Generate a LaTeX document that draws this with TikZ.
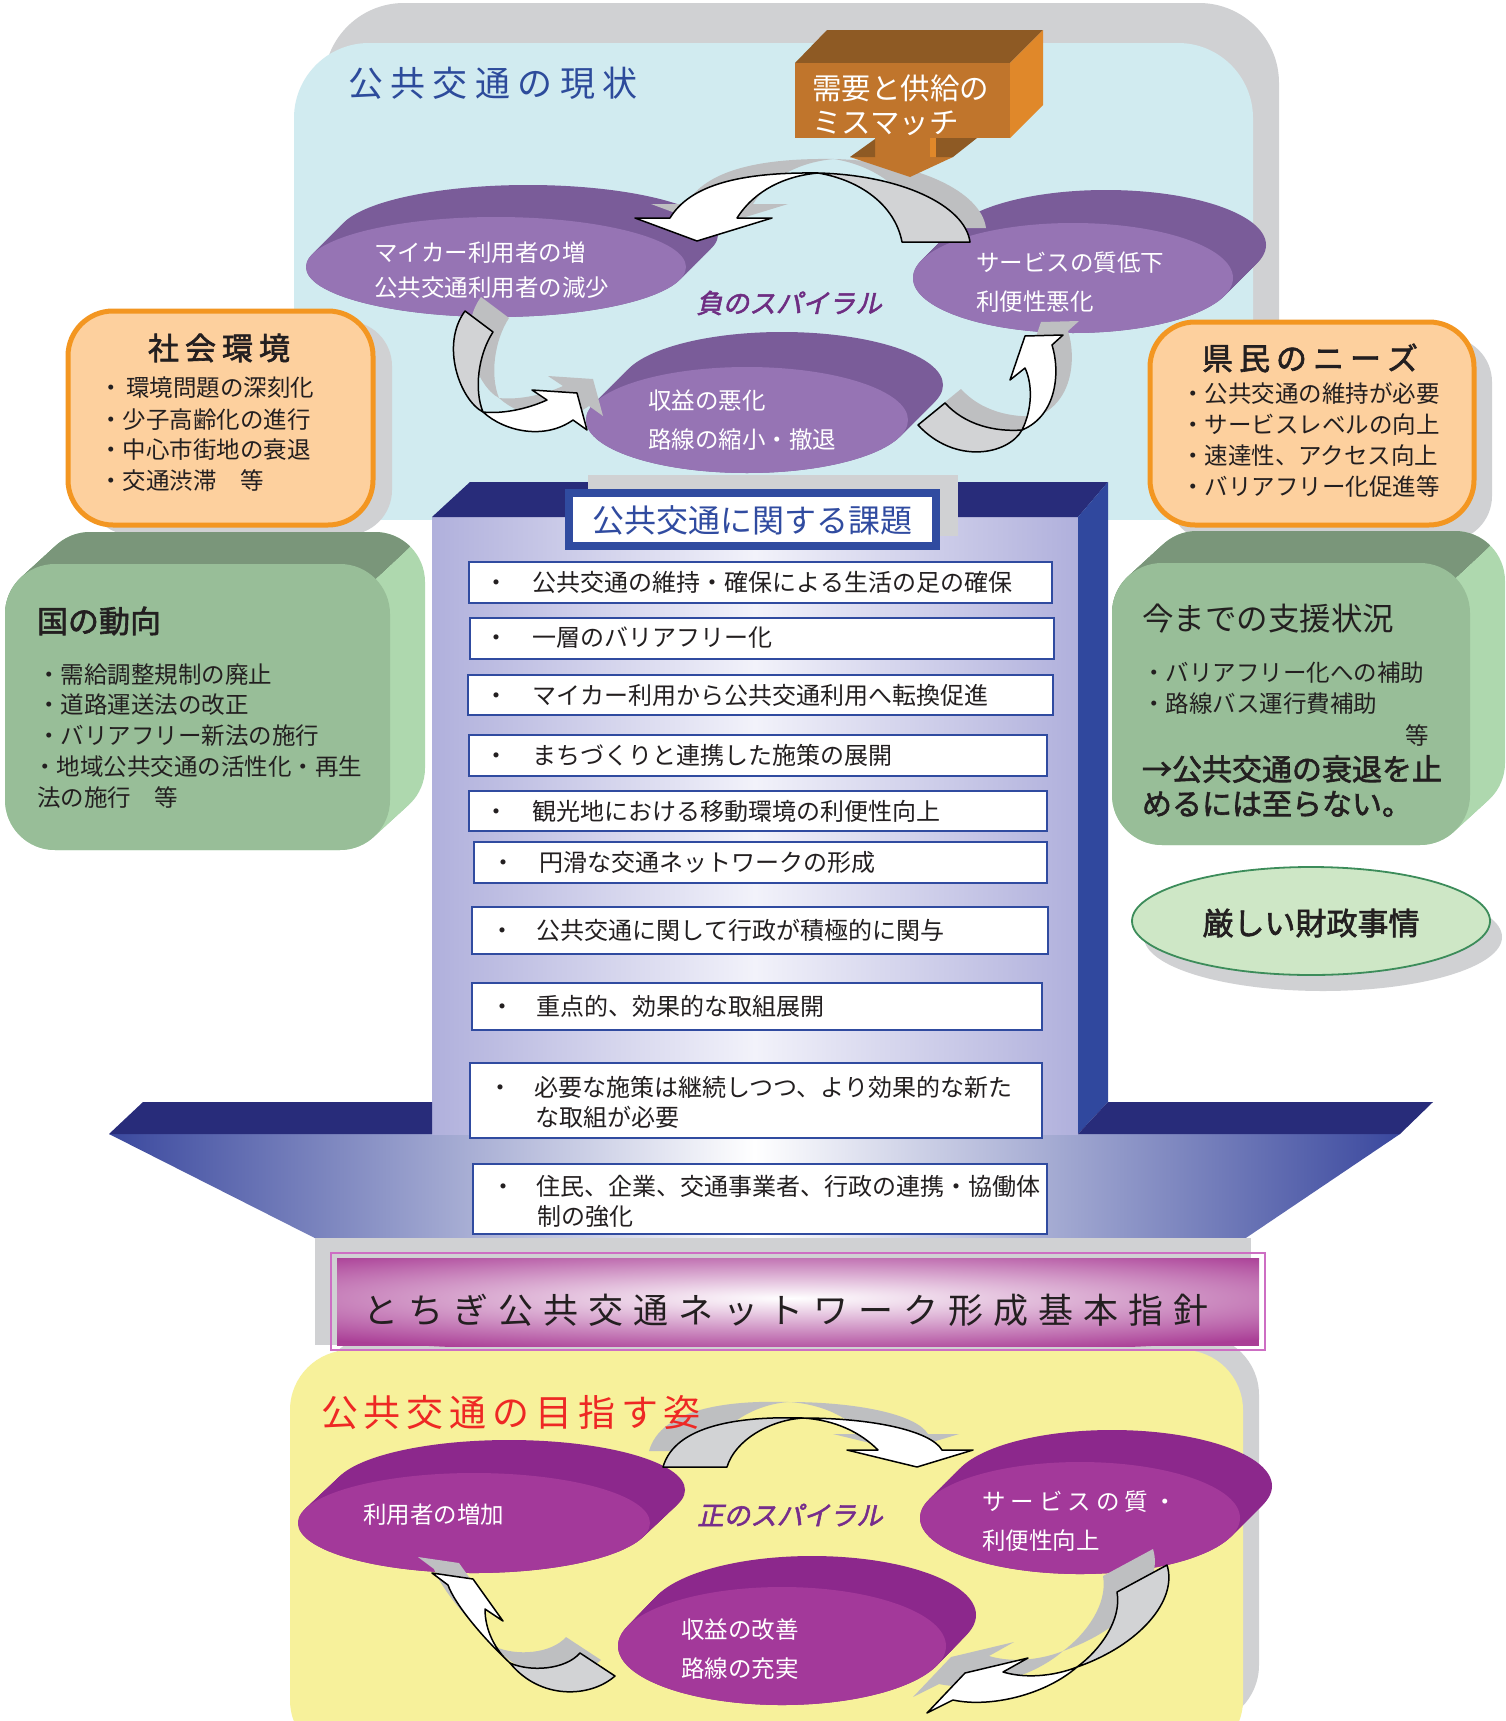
\documentclass[tikz,border=0pt]{standalone}
\usepackage{fontspec}
\setmainfont{Noto Sans CJK JP}[AutoFakeBold=2]
\newfontfamily\jpsl{Noto Sans CJK JP}[FakeSlant=0.22,AutoFakeBold=2]
\definecolor{graybk}{RGB}{208,209,211}
\definecolor{cyanbg}{RGB}{209,235,240}
\definecolor{titleblue}{RGB}{45,75,155}
\definecolor{obfront}{RGB}{192,117,44}
\definecolor{obtop}{RGB}{142,90,36}
\definecolor{obside}{RGB}{224,136,42}
\definecolor{purpfront}{RGB}{150,116,180}
\definecolor{purpback}{RGB}{122,92,153}
\definecolor{arrgray}{RGB}{210,211,213}
\definecolor{arrshadow}{RGB}{190,191,193}
\definecolor{peach}{RGB}{253,208,158}
\definecolor{orangebd}{RGB}{243,150,33}
\definecolor{greenfront}{RGB}{152,190,152}
\definecolor{greentop}{RGB}{122,150,122}
\definecolor{greenside}{RGB}{174,216,174}
\definecolor{ellfill}{RGB}{206,231,198}
\definecolor{ellline}{RGB}{60,140,90}
\definecolor{navy}{RGB}{40,44,122}
\definecolor{blueside}{RGB}{48,72,158}
\definecolor{boxblue}{RGB}{48,75,160}
\definecolor{headblue}{RGB}{58,72,158}
\definecolor{shaftlav}{RGB}{176,176,220}
\definecolor{shaftlight}{RGB}{242,242,250}
\definecolor{magbar}{RGB}{170,62,150}
\definecolor{pinkline}{RGB}{205,110,195}
\definecolor{yellowbg}{RGB}{247,241,155}
\definecolor{redtitle}{RGB}{238,40,36}
\definecolor{magfront}{RGB}{163,57,154}
\definecolor{magback}{RGB}{140,40,140}
\definecolor{spiralneg}{RGB}{110,45,130}
\definecolor{spiralpos}{RGB}{118,45,140}
\definecolor{darktext}{RGB}{35,31,32}
\makeatletter
\def\spr@end{\spr@end@}
\def\spr@loop#1{\ifx#1\spr@end\else\hfill#1\expandafter\spr@loop\fi}
\def\spr@first#1{#1\spr@loop}
\newcommand\spreadtext[2]{\makebox[#1]{\spr@first#2\spr@end}}
\makeatother
\newcommand\fsz[1]{\fontsize{#1pt}{#1pt}\selectfont}
% disk: cx cy rx ry dx dy front back
\newcommand\disk[8]{%
  \foreach \t in {0,0.05,...,1.01} {\fill[#8] ({#1+#5*\t},{#2+#6*\t}) ellipse [x radius=#3pt, y radius=#4pt];}
  \fill[#7] (#1,#2) ellipse [x radius=#3pt, y radius=#4pt];}
% green 3D box: x1 y1 x2 y2
\newcommand\gbox[4]{%
  \foreach \t in {0,0.1,...,1.01} {\fill[greenside, rounded corners=50pt] ({#1+35*\t},{#2-32*\t}) rectangle ({#3+35*\t},{#4-32*\t});}
  \begin{scope}
    \clip ({#1-10},{#2+60}) -- ({#1-10},{#2-60}) -- ({#3+49},{#2-44}) -- ({#3-15},{#2+15}) -- cycle;
    \foreach \t in {0,0.1,...,1.01} {\fill[greentop, rounded corners=50pt] ({#1+35*\t},{#2-32*\t}) rectangle ({#3+35*\t},{#4-32*\t});}
  \end{scope}
  \fill[greenfront, rounded corners=50pt] (#1,#2) rectangle (#3,#4);}
% arrow paths
\def\pNTg{(818,173) .. controls (900,175) and (965,205) .. (970,242) -- (902,242) .. controls (895,205) and (860,180) .. (818,173) -- cycle}
\def\pNTw{(818,173) .. controls (740,172) and (690,185) .. (670,218) -- (635,218) -- (697,241) -- (772,218) -- (737,218) .. controls (755,190) and (785,176) .. (818,173) -- cycle}
\def\pNLg{(465,311) -- (493,332) .. controls (478,355) and (474,390) .. (483,412) .. controls (460,400) and (440,345) .. (465,311) -- cycle}
\def\pNLw{(483,412) .. controls (505,432) and (545,440) .. (573,420) -- (587,430) -- (577,393) -- (532,390) -- (547,400) .. controls (525,410) and (500,414) .. (483,412) -- cycle}
\def\pNRg{(918,425) -- (945,403) .. controls (965,425) and (995,432) .. (1022,430) .. controls (1008,455) and (955,465) .. (918,425) -- cycle}
\def\pNRw{(1022,430) .. controls (1032,410) and (1033,385) .. (1025,368) -- (1010,380) -- (1025,336) -- (1063,335) -- (1052,345) .. controls (1060,370) and (1058,415) .. (1022,430) -- cycle}
\def\pPTg{(663,1467) -- (727,1467) .. controls (735,1440) and (770,1420) .. (803,1418) .. controls (740,1416) and (675,1425) .. (663,1467) -- cycle}
\def\pPTw{(803,1418) .. controls (870,1418) and (930,1430) .. (942,1450) -- (973,1450) -- (917,1467) -- (847,1450) -- (878,1450) .. controls (860,1432) and (835,1420) .. (803,1418) -- cycle}
\def\pPLg{(580,1653) -- (615,1676) .. controls (590,1698) and (540,1700) .. (510,1663) .. controls (530,1672) and (565,1670) .. (580,1653) -- cycle}
\def\pPLw{(510,1663) .. controls (485,1640) and (455,1605) .. (448,1585) -- (432,1573) -- (473,1579) -- (503,1621) -- (485,1609) .. controls (485,1630) and (495,1650) .. (510,1663) -- cycle}
\def\pPRg{(1117,1592) -- (1167,1565) .. controls (1178,1600) and (1140,1645) .. (1077,1667) .. controls (1100,1650) and (1122,1620) .. (1117,1592) -- cycle}
\def\pPRw{(1077,1667) .. controls (1045,1695) and (990,1708) .. (953,1700) -- (927,1713) -- (965,1673) -- (1028,1658) -- (1003,1672) .. controls (1030,1680) and (1060,1674) .. (1077,1667) -- cycle}
\begin{document}
\begin{tikzpicture}[x=1pt,y=-1pt,
  every node/.style={inner sep=0pt,outer sep=0pt},
  arrg/.style={fill=arrgray,draw=black,line width=1.5pt,line join=round},
  arrw/.style={fill=white,draw=black,line width=1.5pt,line join=round},
  body/.style={text=darktext,font=\fsz{23.5}},
  list/.style={text=darktext,font=\fsz{24},anchor=west},
  listbox/.style={fill=white,draw=boxblue,line width=2.2pt},
  disktext/.style={text=white,font=\fsz{23.5}}]
\useasboundingbox (0,0) rectangle (1505,1721);
\fill[white] (0,0) rectangle (1505,1721);
% ---------- top panel ----------
\begin{scope}
  \clip (0,0) rectangle (1505,519);
  \fill[graybk, rounded corners=80pt] (324,3) rectangle (1279,700);
  \fill[cyanbg, rounded corners=75pt] (294,43) rectangle (1253,700);
\end{scope}
\node[anchor=west,text=titleblue,font=\fsz{35}] (ttop) at (348,83) {\spreadtext{290pt}{公共交通の現状}};
% negative disks
\disk{496}{267}{190}{50}{32}{-32}{purpfront}{purpback}
\disk{1073}{278}{160}{55}{33}{-33}{purpfront}{purpback}
\disk{747}{420}{161}{53}{35}{-35}{purpfront}{purpback}
\node[disktext,anchor=west] (d1a) at (374,253) {マイカー利用者の増};
\node[disktext,anchor=west] (d1b) at (374,288) {公共交通利用者の減少};
\node[disktext,anchor=west] (d2a) at (976,263) {サービスの質低下};
\node[disktext,anchor=west] (d2b) at (976,302) {利便性悪化};
\node[disktext,anchor=west] (d3a) at (648,401) {収益の悪化};
\node[disktext,anchor=west] (d3b) at (648,440) {路線の縮小・撤退};
% negative arrows
\begin{scope}[shift={(16,-14)}]
  \fill[arrshadow] \pNTg; \fill[arrshadow] \pNTw;
  \fill[arrshadow] \pNLg; \fill[arrshadow] \pNLw;
  \fill[arrshadow] \pNRg; \fill[arrshadow] \pNRw;
\end{scope}
\filldraw[arrg] \pNTg; \filldraw[arrw] \pNTw;
\filldraw[arrg] \pNLg; \filldraw[arrw] \pNLw;
\filldraw[arrg] \pNRg; \filldraw[arrw] \pNRw;
\node[text=spiralneg,font=\jpsl\bfseries\fsz{26.5}] (neg) at (789,303) {負のスパイラル};
% orange 3D box
\fill[obtop] (795,63) -- (827,30) -- (1043,30) -- (1010,63) -- cycle;
\fill[obside] (1010,63) -- (1043,30) -- (1043,105) -- (1010,138) -- cycle;
\fill[obfront] (795,63) rectangle (1010,138);
\fill[obfront] (875,137) -- (930,137) -- (930,157) -- (953,157) -- (910,177) -- (850,157) -- (875,157) -- cycle;
\fill[obtop] (850,157) -- (875,139) -- (875,157) -- cycle;
\fill[obside] (930,138) -- (936,138) -- (936,157) -- (930,157) -- cycle;
\fill[obtop] (936,157) -- (953,157) -- (977,138) -- (936,138) -- cycle;
\node[anchor=west,text=white,font=\fsz{29.5}] (mm1) at (812,88) {需要と供給の};
\node[anchor=west,text=white,font=\fsz{29.5}] (mm2) at (812,123) {ミスマッチ};
% ---------- orange side boxes ----------
\fill[graybk, rounded corners=45pt] (87,321) rectangle (392,535);
\filldraw[fill=peach, draw=orangebd, line width=5pt, rounded corners=45pt] (68,311) rectangle (373,525);
\node[text=darktext,font=\bfseries\fsz{31}] (soc) at (219,348) {\spreadtext{142pt}{社会環境}};
\node[body,anchor=west] (s1) at (99,388) {・\,環境問題の深刻化};
\node[body,anchor=west] (s2) at (99,420) {・少子高齢化の進行};
\node[body,anchor=west] (s3) at (99,450) {・中心市街地の衰退};
\node[body,anchor=west] (s4) at (99,481) {・交通渋滞　等};
\fill[graybk, rounded corners=45pt] (1168,337) rectangle (1492,541);
\filldraw[fill=peach, draw=orangebd, line width=5pt, rounded corners=45pt] (1150,322) rectangle (1474,525);
\node[text=darktext,font=\bfseries\fsz{31}] (ken) at (1310,358) {\spreadtext{216pt}{県民のニーズ}};
\node[body,anchor=west] (k1) at (1181,394) {・公共交通の維持が必要};
\node[body,anchor=west] (k2) at (1181,425) {・サービスレベルの向上};
\node[body,anchor=west] (k3) at (1181,456) {・速達性、アクセス向上};
\node[body,anchor=west] (k4) at (1181,487) {・バリアフリー化促進等};
% ---------- green boxes ----------
\gbox{5}{564}{390}{850}
\node[anchor=west,text=darktext,font=\bfseries\fsz{31}] (kuni) at (37,621) {国の動向};
\node[body,anchor=west] (g1) at (37,675) {・需給調整規制の廃止};
\node[body,anchor=west] (g2) at (37,705) {・道路運送法の改正};
\node[body,anchor=west] (g3) at (37,736) {・バリアフリー新法の施行};
\node[body,anchor=west] (g4) at (33,767) {・地域公共交通の活性化・再生};
\node[body,anchor=west] (g5) at (37,798) {法の施行　等};
\gbox{1112}{563}{1470}{845}
\node[anchor=west,text=darktext,font=\fsz{31.5}] (shien) at (1142,619) {今までの支援状況};
\node[body,anchor=west] (h1) at (1142,673) {・バリアフリー化への補助};
\node[body,anchor=west] (h2) at (1142,704) {・路線バス運行費補助};
\node[body] (h3) at (1417,735) {等};
\node[anchor=west,text=darktext,font=\bfseries\fsz{30}] (h4) at (1142,769) {→公共交通の衰退を止};
\node[anchor=west,text=darktext,font=\bfseries\fsz{30}] (h5) at (1142,804) {めるには至らない。};
% ellipse
\fill[graybk] (1323,937) ellipse [x radius=179pt, y radius=54pt];
\filldraw[fill=ellfill, draw=ellline, line width=1.8pt] (1311,921) ellipse [x radius=179pt, y radius=54pt];
\node[text=darktext,font=\bfseries\fsz{31}] (zai) at (1311,923) {厳しい財政事情};
% ---------- central arrow ----------
\shade[left color=headblue, right color=headblue, middle color=white] (109,1134) -- (1400,1134) -- (847,1507) -- cycle;
\shade[left color=shaftlav, right color=shaftlav, middle color=shaftlight] (432,517) rectangle (1078,1134);
\fill[navy] (432,517) -- (470,482) -- (1108,482) -- (1078,517) -- cycle;
\fill[blueside] (1078,517) -- (1108,482) -- (1108,1102) -- (1078,1134) -- cycle;
\fill[navy] (109,1134) -- (143,1102) -- (432,1102) -- (432,1134) -- cycle;
\fill[navy] (1078,1134) -- (1108,1102) -- (1433,1102) -- (1400,1134) -- cycle;
\fill[graybk] (588,475) rectangle (958,536);
\filldraw[fill=white, draw=boxblue, line width=8pt] (569,493) rectangle (936,546);
\node[text=boxblue,font=\fsz{32}] (kadai) at (752,520) {公共交通に関する課題};
% list
\draw[listbox] (469,562) rectangle (1052,603);
\draw[listbox] (470,618) rectangle (1054,659);
\draw[listbox] (468,675) rectangle (1053,715);
\draw[listbox] (469,735) rectangle (1047,776);
\draw[listbox] (469,791) rectangle (1047,831);
\draw[listbox] (474,842) rectangle (1047,883);
\draw[listbox] (472,907) rectangle (1048,954);
\draw[listbox] (472,983) rectangle (1042,1030);
\draw[listbox] (470,1063) rectangle (1042,1138);
\draw[listbox] (473,1164) rectangle (1047,1234);
\node[list] (l1) at (484,582) {・\hspace{25pt}公共交通の維持・確保による生活の足の確保};
\node[list] (l2) at (484,638) {・\hspace{25pt}一層のバリアフリー化};
\node[list] (l3) at (484,695) {・\hspace{25pt}マイカー利用から公共交通利用へ転換促進};
\node[list] (l4) at (484,755) {・\hspace{25pt}まちづくりと連携した施策の展開};
\node[list] (l5) at (484,811) {・\hspace{25pt}観光地における移動環境の利便性向上};
\node[list] (l6) at (491,862) {・\hspace{24pt}円滑な交通ネットワークの形成};
\node[list] (l7) at (490,930) {・\hspace{23pt}公共交通に関して行政が積極的に関与};
\node[list] (l8) at (490,1006) {・\hspace{23pt}重点的、効果的な取組展開};
\node[list] (l9a) at (488,1087) {・\hspace{23pt}必要な施策は継続しつつ、より効果的な新た};
\node[list] (l9b) at (535,1117) {な取組が必要};
\node[list] (l10a) at (491,1186) {・\hspace{22pt}住民、企業、交通事業者、行政の連携・協働体};
\node[list] (l10b) at (537,1216) {制の強化};
% ---------- bottom panel ----------
\fill[graybk, rounded corners=60pt] (318,1335) rectangle (1259,1725);
\fill[yellowbg, rounded corners=60pt] (290,1350) rectangle (1243,1760);
% title bar
\fill[graybk] (315,1238) rectangle (1251,1345);
\fill[magbar] (337,1258) rectangle (1259,1346);
\begin{scope}
  \clip (337,1258) rectangle (1259,1346);
  \shade[inner color=white, outer color=magbar] (790,1298) ellipse [x radius=700pt, y radius=56pt];
\end{scope}
\draw[pinkline, line width=1.5pt] (331,1253) rectangle (1265,1350);
\node[text=darktext,font=\fsz{35}] (plan) at (786,1310) {\spreadtext{845pt}{とちぎ公共交通ネットワーク形成基本指針}};
% positive disks
\disk{474}{1523}{176}{50}{35}{-33}{magfront}{magback}
\disk{1080}{1518}{160}{56}{32}{-32}{magfront}{magback}
\disk{782}{1646}{164}{59}{30}{-31}{magfront}{magback}
\node[disktext,anchor=west] (p1) at (363,1515) {利用者の増加};
\node[disktext,anchor=west] (p2a) at (982,1502) {\spreadtext{195pt}{サービスの質・}};
\node[disktext,anchor=west] (p2b) at (982,1541) {利便性向上};
\node[disktext,anchor=west] (p3a) at (681,1630) {収益の改善};
\node[disktext,anchor=west] (p3b) at (681,1669) {路線の充実};
% positive arrows
\begin{scope}[shift={(-14,-16)}]
  \fill[arrshadow] \pPTg; \fill[arrshadow] \pPTw;
  \fill[arrshadow] \pPLg; \fill[arrshadow] \pPLw;
  \fill[arrshadow] \pPRg; \fill[arrshadow] \pPRw;
\end{scope}
\filldraw[arrg] \pPTg; \filldraw[arrw] \pPTw;
\filldraw[arrg] \pPLg; \filldraw[arrw] \pPLw;
\filldraw[arrg] \pPRg; \filldraw[arrw] \pPRw;
\node[text=spiralpos,font=\jpsl\bfseries\fsz{26.5}] (pos) at (790,1515) {正のスパイラル};
\node[anchor=west,text=redtitle,font=\fsz{37}] (tbot) at (321,1412) {\spreadtext{380pt}{公共交通の目指す姿}};
\end{tikzpicture}
\end{document}
